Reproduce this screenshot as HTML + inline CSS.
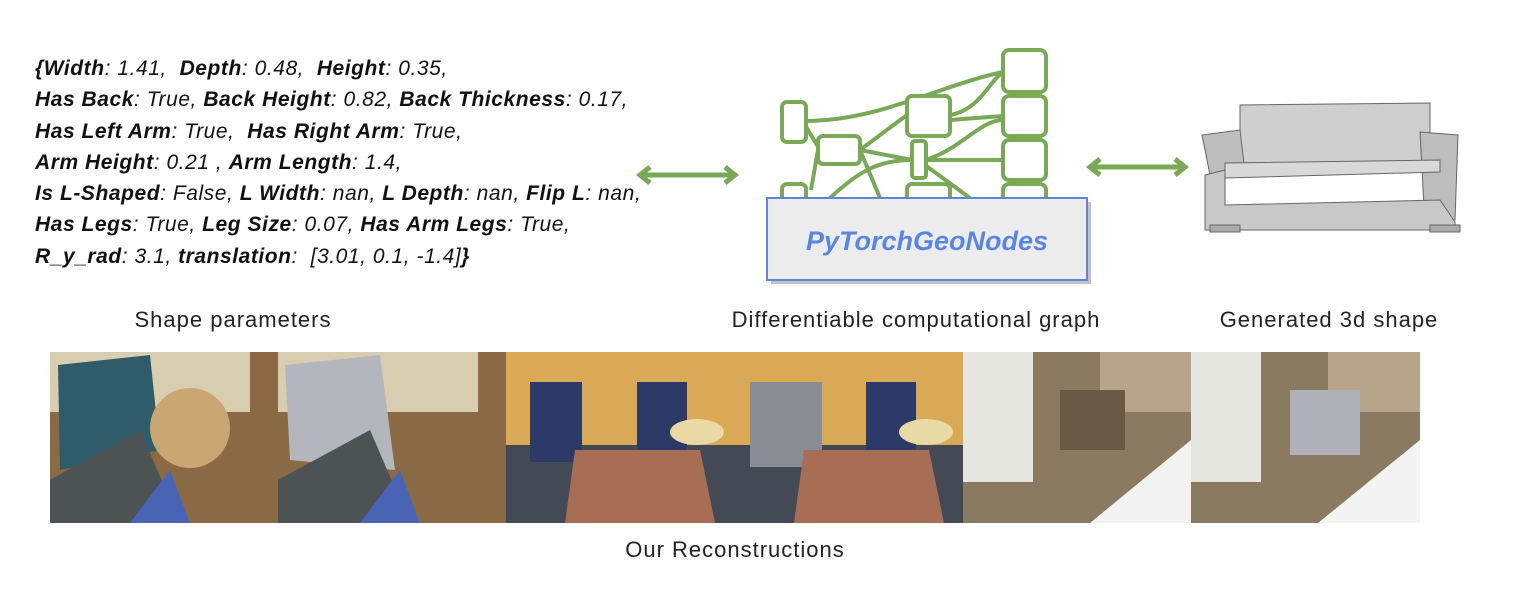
<!DOCTYPE html>
<html><head><meta charset="utf-8"><style>
body{margin:0;width:1523px;height:592px;background:#fff;position:relative;overflow:hidden;font-family:"Liberation Sans",sans-serif}
.p{position:absolute;left:35px;font-size:21px;letter-spacing:0.55px;font-style:italic;color:#111;white-space:nowrap;line-height:31.3px}
.p b{font-weight:bold}
.lab{position:absolute;font-size:22px;letter-spacing:1px;color:#222;white-space:nowrap;transform:translateX(-50%)}
</style></head><body>
<div class="p" style="top:53px">
<b>{Width</b>: 1.41,&nbsp; <b>Depth</b>: 0.48,&nbsp; <b>Height</b>: 0.35,<br>
<b>Has Back</b>: True, <b>Back Height</b>: 0.82, <b>Back Thickness</b>: 0.17,<br>
<b>Has Left Arm</b>: True,&nbsp; <b>Has Right Arm</b>: True,<br>
<b>Arm Height</b>: 0.21 , <b>Arm Length</b>: 1.4,<br>
<b>Is L-Shaped</b>: False, <b>L Width</b>: nan, <b>L Depth</b>: nan, <b>Flip L</b>: nan,<br>
<b>Has Legs</b>: True, <b>Leg Size</b>: 0.07, <b>Has Arm Legs</b>: True,<br>
<b>R_y_rad</b>: 3.1, <b>translation</b>:&nbsp; [3.01, 0.1, -1.4]<b>}</b>
</div>
<svg width="1523" height="592" style="position:absolute;left:0;top:0">
<g stroke="#79a856" stroke-width="5" fill="none">
<path d="M640 175H735M650 167L640 175L650 183M725 167L735 175L725 183"/>
<path d="M1090 167H1185M1100 159L1090 167L1100 175M1175 159L1185 167L1175 175"/>
<g stroke-width="4">
<path d="M805 121C880 121 940 85 1003 72"/>
<path d="M805 125L820 150M811 190L818 150M860 150L907 115M860 150L912 160M860 150L880 198M830 198C860 170 880 160 912 160"/>
<path d="M950 115C980 110 990 80 1003 72M950 120L1003 116M925 160C960 150 980 120 1003 120M925 160L1003 160M925 165L970 198"/>
</g>
<g stroke-width="4" fill="#fff">
<rect x="782" y="102" width="24" height="40" rx="5"/>
<rect x="818" y="136" width="42" height="28" rx="5"/>
<rect x="782" y="184" width="24" height="30" rx="5"/>
<rect x="907" y="96" width="43" height="40" rx="5"/>
<rect x="912" y="141" width="14" height="37" rx="3"/>
<rect x="907" y="184" width="43" height="30" rx="5"/>
<rect x="1003" y="50" width="43" height="42" rx="6"/>
<rect x="1003" y="96" width="43" height="40" rx="6"/>
<rect x="1003" y="140" width="43" height="40" rx="6"/>
<rect x="1003" y="184" width="43" height="30" rx="6"/>
</g></g>
<rect x="771" y="202" width="320" height="82" fill="#999" opacity=".6"/>
<rect x="767" y="198" width="320" height="82" fill="#ececec" stroke="#5b86e0" stroke-width="2"/>
<text x="927" y="250" text-anchor="middle" font-family="Liberation Sans" font-size="27" font-weight="bold" font-style="italic" fill="#5b86e0">PyTorchGeoNodes</text>
<g fill="#cfcfcf" stroke="#666" stroke-width="1">
<path d="M1240 105L1430 103L1430 165L1240 165Z"/>
<path d="M1202 135L1240 130L1245 172L1210 175Z" fill="#bdbdbd"/>
<path d="M1420 132L1458 135L1455 220L1425 225Z" fill="#bdbdbd"/>
<path d="M1225 163L1440 160L1440 172L1225 178Z" fill="#d8d8d8"/>
<path d="M1205 175L1225 170L1225 205L1440 200L1455 222L1455 230L1205 230Z" fill="#c8c8c8"/>
<path d="M1210 225H1240V232H1210ZM1430 225H1460V232H1430Z" fill="#aaa"/>
</g>
<g>
<rect x="50" y="352" width="228" height="171" fill="#8a6a45"/>
<rect x="50" y="352" width="200" height="60" fill="#d9cdb0"/>
<path d="M58 365L150 355L160 450L60 470Z" fill="#2f5c6a"/>
<circle cx="190" cy="428" r="40" fill="#c9a672"/>
<path d="M50 480L140 430L180 523H50Z" fill="#4d5355"/>
<path d="M130 523L170 470L190 523Z" fill="#4a64b5"/>
<rect x="278" y="352" width="228" height="171" fill="#8a6a45"/>
<rect x="278" y="352" width="200" height="60" fill="#d9cdb0"/>
<path d="M285 365L380 355L395 470L290 460Z" fill="#b3b7bd"/>
<path d="M278 480L370 430L410 523H278Z" fill="#4d5355"/>
<path d="M360 523L400 470L420 523Z" fill="#4a64b5"/>
<rect x="506" y="352" width="229" height="171" fill="#d9a955"/>
<rect x="506" y="445" width="229" height="78" fill="#444a55"/>
<rect x="530" y="382" width="52" height="80" fill="#2d3a68"/>
<rect x="637" y="382" width="50" height="70" fill="#2d3a68"/>
<path d="M575 450H700L715 523H565Z" fill="#a86e55"/>
<ellipse cx="697" cy="432" rx="27" ry="13" fill="#e8d9a5"/>
<rect x="735" y="352" width="228" height="171" fill="#d9a955"/>
<rect x="735" y="445" width="228" height="78" fill="#444a55"/>
<rect x="750" y="382" width="72" height="85" fill="#8a8d94"/>
<rect x="866" y="382" width="50" height="70" fill="#2d3a68"/>
<path d="M804 450H929L944 523H794Z" fill="#a86e55"/>
<ellipse cx="926" cy="432" rx="27" ry="13" fill="#e8d9a5"/>
<rect x="963" y="352" width="228" height="171" fill="#8a7a62"/>
<rect x="963" y="352" width="70" height="130" fill="#e6e6e0"/>
<rect x="1100" y="352" width="91" height="60" fill="#b7a58a"/>
<path d="M1060 390H1125V450H1060Z" fill="#6b5a45"/>
<path d="M1090 523L1191 440V523Z" fill="#f3f3f3"/>
<rect x="1191" y="352" width="229" height="171" fill="#8a7a62"/>
<rect x="1191" y="352" width="70" height="130" fill="#e6e6e0"/>
<rect x="1328" y="352" width="92" height="60" fill="#b7a58a"/>
<path d="M1290 390H1360V455H1290Z" fill="#aeb2b8"/>
<path d="M1318 523L1420 440V523Z" fill="#f3f3f3"/>
</g>
</svg>
<div class="lab" style="left:233px;top:307px">Shape parameters</div>
<div class="lab" style="left:916px;top:307px">Differentiable computational graph</div>
<div class="lab" style="left:1329px;top:307px">Generated 3d shape</div>
<div class="lab" style="left:735px;top:537px">Our Reconstructions</div>
</body></html>
